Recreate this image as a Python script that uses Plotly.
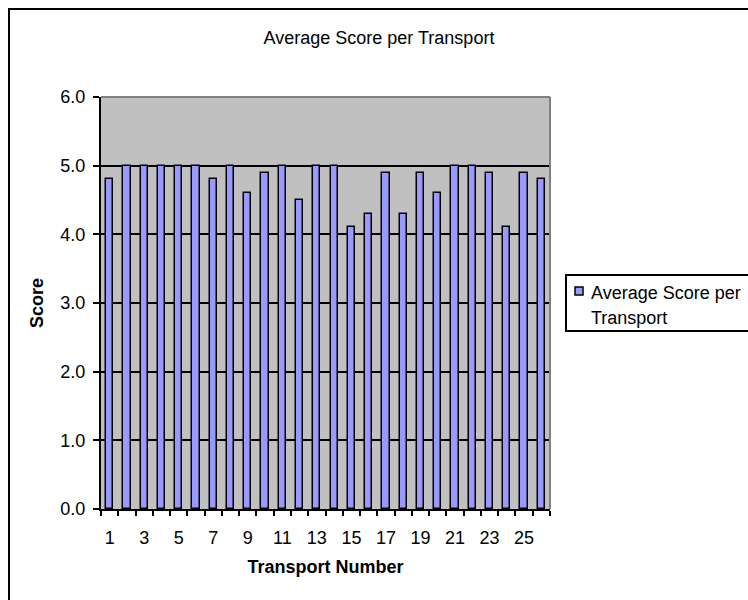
import plotly.graph_objects as go

transport = list(range(1, 27))
scores = [4.8, 5.0, 5.0, 5.0, 5.0, 5.0, 4.8, 5.0, 4.6, 4.9, 5.0, 4.5, 5.0,
          5.0, 4.1, 4.3, 4.9, 4.3, 4.9, 4.6, 5.0, 5.0, 4.9, 4.1, 4.9, 4.8]
x_tick_labels = [str(t) for t in transport if t % 2 == 1]
series_name = "Average Score per Transport"
legend_lines = ["Average Score per", "Transport"]
bar_color = "#9999FF"

FONT = "Arial, 'Liberation Sans', sans-serif"

fig = go.Figure()
fig.add_trace(go.Bar(
    x=transport, y=scores, name=series_name,
    width=0.42, showlegend=False,
    marker=dict(color=bar_color, line=dict(color="black", width=1.5)),
))

W, H = 748, 600
L, R, T, B = 101, 198, 97, 91
pw, ph = W - L - R, H - T - B

def px_x(p):
    return (p - L) / pw

def px_y(p):
    return (H - B - p) / ph

fig.update_layout(
    width=W, height=H,
    margin=dict(l=L, r=R, t=T, b=B, pad=0, autoexpand=False),
    paper_bgcolor="white",
    plot_bgcolor="#C0C0C0",
    font=dict(family=FONT, size=18, color="black"),
    title=dict(text="Average Score per Transport", x=379 / W, xref="container",
               xanchor="center", y=1 - 38 / H, yref="container", yanchor="middle",
               font=dict(size=18)),
    showlegend=False,
    bargap=0,
)

fig.update_xaxes(
    range=[0.5, 26.5],
    tickmode="array",
    tickvals=[t for t in transport if t % 2 == 1],
    ticktext=x_tick_labels,
    ticks="", showgrid=False, zeroline=False,
    showline=True, linecolor="black", linewidth=2,
    minor=dict(tickmode="array", tickvals=[t - 0.5 for t in transport] + [transport[-1] + 0.5],
               ticks="outside", ticklen=5, tickwidth=2, tickcolor="black", showgrid=False),
    ticklabelstandoff=11,
    title=dict(text="<b>Transport Number</b>", standoff=14, font=dict(size=18)),
)

fig.update_yaxes(
    range=[0, 6], dtick=1, tick0=0, tickformat=".1f",
    ticks="outside", ticklen=6, tickwidth=2, tickcolor="black",
    showline=True, linecolor="black", linewidth=2,
    showgrid=True, gridcolor="black", gridwidth=1.5, zeroline=False,
    ticklabelstandoff=4,
    title=dict(text="<b>Score</b>", standoff=12, font=dict(size=18)),
)

# gray plot-area border (top and right)
fig.add_shape(type="line", xref="paper", yref="paper", x0=0, x1=1, y0=1, y1=1,
              line=dict(color="#808080", width=2), layer="above")
fig.add_shape(type="line", xref="paper", yref="paper", x0=1, x1=1, y0=0, y1=1,
              line=dict(color="#808080", width=2), layer="above")
# chart-area border
fig.add_shape(type="rect", xref="paper", yref="paper",
              x0=px_x(9), x1=px_x(760), y0=px_y(610), y1=px_y(9),
              line=dict(color="black", width=2), fillcolor="rgba(0,0,0,0)", layer="above")

# legend box, swatch and text
fig.add_shape(type="rect", xref="paper", yref="paper",
              x0=px_x(566), x1=px_x(770), y0=px_y(331), y1=px_y(275),
              line=dict(color="black", width=2), fillcolor="white", layer="above")
fig.add_shape(type="rect", xref="paper", yref="paper",
              x0=px_x(575), x1=px_x(583), y0=px_y(295), y1=px_y(287),
              line=dict(color="black", width=1.5), fillcolor=bar_color, layer="above")
for i, line in enumerate(legend_lines):
    fig.add_annotation(xref="paper", yref="paper", x=px_x(589), y=px_y(293 + 25 * i),
                       xanchor="left", yanchor="middle", align="left", showarrow=False,
                       text=line, font=dict(size=18))

fig.write_html("out.html", config={"displayModeBar": False},
               post_script="document.body.style.margin='0';document.body.style.overflow='hidden';")
